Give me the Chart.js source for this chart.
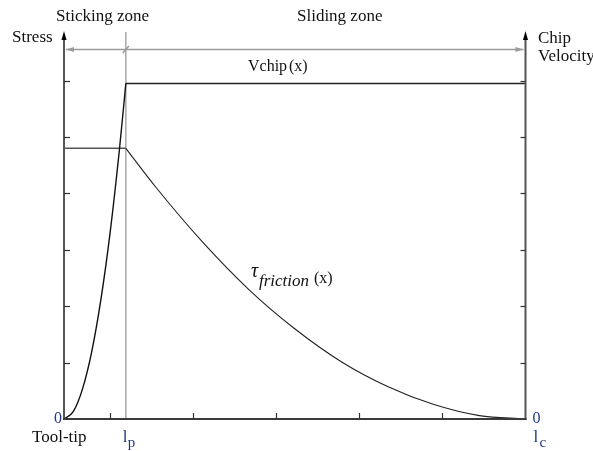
<!DOCTYPE html>
<html>
<head>
<meta charset="utf-8">
<script src="https://cdn.jsdelivr.net/npm/chart.js@4/dist/chart.umd.min.js"></script>
<style>
html,body{margin:0;padding:0;background:#fff;}
#wrap{width:593px;height:451px;position:relative;}
</style>
</head>
<body>
<div id="wrap"><canvas id="c" width="593" height="451"></canvas></div>
<script>
// ---- data (x in % of contact length lc, y in stress/velocity units) ----
const lp = 13.4;
const lc = 100;
const vchipRiseX = [0, 2, 4, 6, 8, 10, 12, 13.4];
const vchipRiseY = [0, 0.13, 0.53, 1.19, 2.12, 3.31, 4.77, 5.95];
const vchipFlatX = [13.4, 100];
const vchipFlatY = [5.95, 5.95];
const tauFlatX = [0, 13.4];
const tauFlatY = [4.8, 4.8];
const tauDecayX = [13.4, 20, 30, 40, 50, 60, 70, 80, 90, 100];
const tauDecayY = [4.8, 4.10, 3.14, 2.30, 1.60, 1.02, 0.58, 0.26, 0.06, 0];
const yTicks = [1, 2, 3, 4, 5, 6];
const xTicks = [10, 28, 46, 64, 82];
const yMax = 6.8;

function pts(xs, ys){ return xs.map((x,i)=>({x:x, y:ys[i]})); }

const SERIF = '"Liberation Serif", "Times New Roman", serif';
const BLUE = '#1e3a7e';

const overlay = {
  id: 'overlay',
  beforeDatasetsDraw(chart){
    const ctx = chart.ctx, xs = chart.scales.x, ys = chart.scales.y;
    const x0 = xs.getPixelForValue(0), x1 = xs.getPixelForValue(lc);
    const xp = xs.getPixelForValue(lp);
    const yb = ys.getPixelForValue(0);
    ctx.save();
    // lp vertical grey line
    ctx.strokeStyle = '#a8a8a8'; ctx.lineWidth = 1.5;
    ctx.beginPath(); ctx.moveTo(xp, 32); ctx.lineTo(xp, yb); ctx.stroke();
    // dimension line
    const yd = 49.5;
    ctx.strokeStyle = '#9a9a9a'; ctx.lineWidth = 1.5;
    ctx.beginPath(); ctx.moveTo(x0 + 2, yd); ctx.lineTo(x1 - 2, yd); ctx.stroke();
    ctx.fillStyle = '#9a9a9a';
    ctx.beginPath(); ctx.moveTo(x0 + 2, yd); ctx.lineTo(x0 + 10, yd - 2.5); ctx.lineTo(x0 + 10, yd + 2.5); ctx.closePath(); ctx.fill();
    ctx.beginPath(); ctx.moveTo(x1 - 2, yd); ctx.lineTo(x1 - 10, yd - 2.5); ctx.lineTo(x1 - 10, yd + 2.5); ctx.closePath(); ctx.fill();
    ctx.beginPath(); ctx.moveTo(xp - 3, yd + 3.5); ctx.lineTo(xp + 3, yd - 3.5); ctx.stroke();
    ctx.restore();
  },
  afterDatasetsDraw(chart){
    const ctx = chart.ctx, xs = chart.scales.x, ys = chart.scales.y;
    const x0 = xs.getPixelForValue(0), x1 = xs.getPixelForValue(lc);
    const yb = ys.getPixelForValue(0);
    ctx.save();
    // axes
    ctx.strokeStyle = '#555'; ctx.lineWidth = 2;
    ctx.beginPath(); ctx.moveTo(x0, 36); ctx.lineTo(x0, yb + 1); ctx.stroke();
    ctx.beginPath(); ctx.moveTo(x1, 36); ctx.lineTo(x1, yb + 1); ctx.stroke();
    ctx.strokeStyle = '#3a3a3a';
    ctx.beginPath(); ctx.moveTo(x0 - 1, yb); ctx.lineTo(x1 + 1, yb); ctx.stroke();
    // arrows
    ctx.fillStyle = '#000';
    [x0, x1].forEach(ax => {
      ctx.beginPath(); ctx.moveTo(ax, 31); ctx.lineTo(ax - 2.5, 40); ctx.lineTo(ax + 2.5, 40); ctx.closePath(); ctx.fill();
    });
    // ticks
    ctx.strokeStyle = '#333'; ctx.lineWidth = 1.2;
    yTicks.forEach(v => {
      const py = Math.round(ys.getPixelForValue(v)) + 0.5;
      ctx.beginPath(); ctx.moveTo(x0, py); ctx.lineTo(x0 + 6, py); ctx.stroke();
      ctx.beginPath(); ctx.moveTo(x1 - 5, py); ctx.lineTo(x1, py); ctx.stroke();
    });
    xTicks.forEach(v => {
      const px = Math.round(xs.getPixelForValue(v)) + 0.5;
      ctx.beginPath(); ctx.moveTo(px, yb); ctx.lineTo(px, yb - 6); ctx.stroke();
    });
    ctx.restore();
  },
  afterDraw(chart){
    const ctx = chart.ctx, xs = chart.scales.x, ys = chart.scales.y;
    const x0 = xs.getPixelForValue(0), x1 = xs.getPixelForValue(lc);
    const xp = xs.getPixelForValue(lp);
    const yb = ys.getPixelForValue(0);
    ctx.save();
    ctx.textBaseline = 'alphabetic';
    ctx.fillStyle = '#111';
    ctx.font = '17px ' + SERIF;
    ctx.textAlign = 'left';
    ctx.fillText('Sticking zone', 56, 21);
    ctx.fillText('Sliding zone', 297, 21);
    ctx.fillText('Stress', 12, 42);
    ctx.fillText('Chip', 538, 43);
    ctx.fillText('Velocity', 538, 61);
    ctx.fillText('Tool-tip', 32, 442);
    ctx.font = '16px ' + SERIF;
    ctx.fillText('Vchip', 248, 71);
    ctx.fillText('(x)', 289, 71);
    // tau friction label
    ctx.font = 'italic 20px ' + SERIF;
    ctx.fillText('\u03C4', 251, 277);
    ctx.font = 'italic 17px ' + SERIF;
    ctx.fillText('friction', 259, 286);
    ctx.font = '16px ' + SERIF;
    ctx.fillText('(x)', 314, 283);
    // zeros and l labels
    ctx.fillStyle = BLUE;
    ctx.font = '16px ' + SERIF;
    ctx.textAlign = 'right';
    ctx.fillText('0', x0 - 2, yb + 4);
    ctx.textAlign = 'left';
    ctx.fillText('0', x1 + 7, yb + 4);
    ctx.font = '17px ' + SERIF;
    ctx.fillText('l', xp - 3, 442);
    ctx.fillText('l', x1 + 8, 442);
    ctx.font = '15px ' + SERIF;
    ctx.fillText('p', xp + 2, 447);
    ctx.fillText('c', x1 + 14, 447);
    ctx.restore();
  }
};

const chart = new Chart(document.getElementById('c'), {
  type: 'line',
  data: {
    datasets: [
      { data: pts(vchipRiseX, vchipRiseY), borderColor: '#111', borderWidth: 1.4, cubicInterpolationMode: 'monotone', pointRadius: 0, clip: false },
      { data: pts(vchipFlatX, vchipFlatY), borderColor: '#222', borderWidth: 1.5, tension: 0, pointRadius: 0, clip: false },
      { data: pts(tauFlatX, tauFlatY), borderColor: '#555', borderWidth: 1.5, tension: 0, pointRadius: 0, clip: false },
      { data: pts(tauDecayX, tauDecayY), borderColor: '#222', borderWidth: 1.1, cubicInterpolationMode: 'monotone', pointRadius: 0, clip: false }
    ]
  },
  options: {
    responsive: false,
    animation: false,
    events: [],
    layout: { padding: { left: 64, right: 67.5, top: 35.5, bottom: 32 } },
    plugins: { legend: { display: false }, tooltip: { enabled: false } },
    scales: {
      x: { type: 'linear', min: 0, max: lc, display: false },
      y: { type: 'linear', min: 0, max: yMax, display: false }
    }
  },
  plugins: [overlay]
});
</script>
</body>
</html>
